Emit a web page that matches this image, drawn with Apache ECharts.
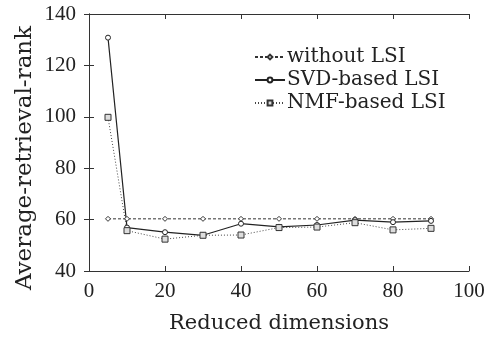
<!DOCTYPE html>
<html><head><meta charset="utf-8">
<script src="https://cdn.jsdelivr.net/npm/echarts@6/dist/echarts.min.js"></script>
<style>html,body{margin:0;padding:0;background:#fff}#c{width:488px;height:339px}</style>
</head><body><div id="c"></div>
<script>
const dims = [5, 10, 20, 30, 40, 50, 60, 70, 80, 90];
const withoutLSI = [60.3, 60.3, 60.3, 60.3, 60.3, 60.3, 60.3, 60.3, 60.3, 60.3];
const svdLSI = [130.8, 56.9, 55.1, 53.9, 58.4, 57.2, 57.9, 59.8, 59.0, 59.5];
const nmfLSI = [99.8, 55.7, 52.4, 53.9, 54.0, 56.9, 57.1, 58.8, 56.0, 56.6];
const xTicks = [0, 20, 40, 60, 80, 100];
const yTicks = [40, 60, 80, 100, 120, 140];
const xTitle = 'Reduced dimensions';
const yTitle = 'Average-retrieval-rank';

const font = 'DejaVu Serif';
const tickFont = 'Liberation Serif';
const chart = echarts.init(document.getElementById('c'));
const pair = a => dims.map((d, i) => [d, a[i]]);
const axisCommon = {
  axisLine: {show: true, lineStyle: {color: '#333', width: 1}},
  axisTick: {show: true, inside: true, length: 5, lineStyle: {color: '#333'}},
  splitLine: {show: false}
};
chart.setOption({
  animation: false,
  grid: {left: 89, right: 19, top: 14, bottom: 64},
  legend: {
    orient: 'vertical', left: 249, top: 42, itemWidth: 30, itemHeight: 6, itemGap: 3,
    textStyle: {fontFamily: font, fontSize: 20, color: '#222', padding: [0, 0, 0, -3]},
    data: ['without LSI', 'SVD-based LSI', 'NMF-based LSI']
  },
  graphic: [{
    type: 'text', x: 25, y: 158, rotation: Math.PI / 2,
    style: {text: yTitle, fontFamily: font, fontSize: 23, fill: '#222',
      textAlign: 'center', textVerticalAlign: 'middle', align: 'center', verticalAlign: 'middle'}
  }],
  xAxis: [
    Object.assign({type: 'value', min: xTicks[0], max: xTicks[xTicks.length-1], interval: 20,
      name: xTitle, nameLocation: 'middle', nameGap: 42,
      nameTextStyle: {fontFamily: font, fontSize: 21, color: '#222'},
      axisLabel: {fontFamily: tickFont, fontSize: 21, color: '#222', margin: 10}}, axisCommon),
    Object.assign({type: 'value', position: 'top', min: 0, max: 100, interval: 20,
      axisLabel: {show: false}}, axisCommon)
  ],
  yAxis: [
    Object.assign({type: 'value', min: yTicks[0], max: yTicks[yTicks.length-1], interval: 20,
      axisLabel: {fontFamily: tickFont, fontSize: 21, color: '#222', margin: 13}}, axisCommon),
    Object.assign({type: 'value', position: 'right', min: 40, max: 140, interval: 20,
      axisLabel: {show: false}}, axisCommon)
  ],
  series: [
    {name: 'without LSI', type: 'line', data: pair(withoutLSI), symbol: 'diamond', symbolSize: 5,
     lineStyle: {color: '#333', width: 1, type: [3, 2]}, itemStyle: {color: '#fff', borderColor: '#333', borderWidth: 1}},
    {name: 'SVD-based LSI', type: 'line', data: pair(svdLSI), symbol: 'circle', symbolSize: 5,
     lineStyle: {color: '#222', width: 1.2, type: 'solid'}, itemStyle: {color: '#fff', borderColor: '#222', borderWidth: 1}},
    {name: 'NMF-based LSI', type: 'line', data: pair(nmfLSI), symbol: 'rect', symbolSize: 6,
     lineStyle: {color: '#444', width: 1, type: [1, 2]}, itemStyle: {color: '#ddd', borderColor: '#333', borderWidth: 1}}
  ]
});
</script></body></html>
